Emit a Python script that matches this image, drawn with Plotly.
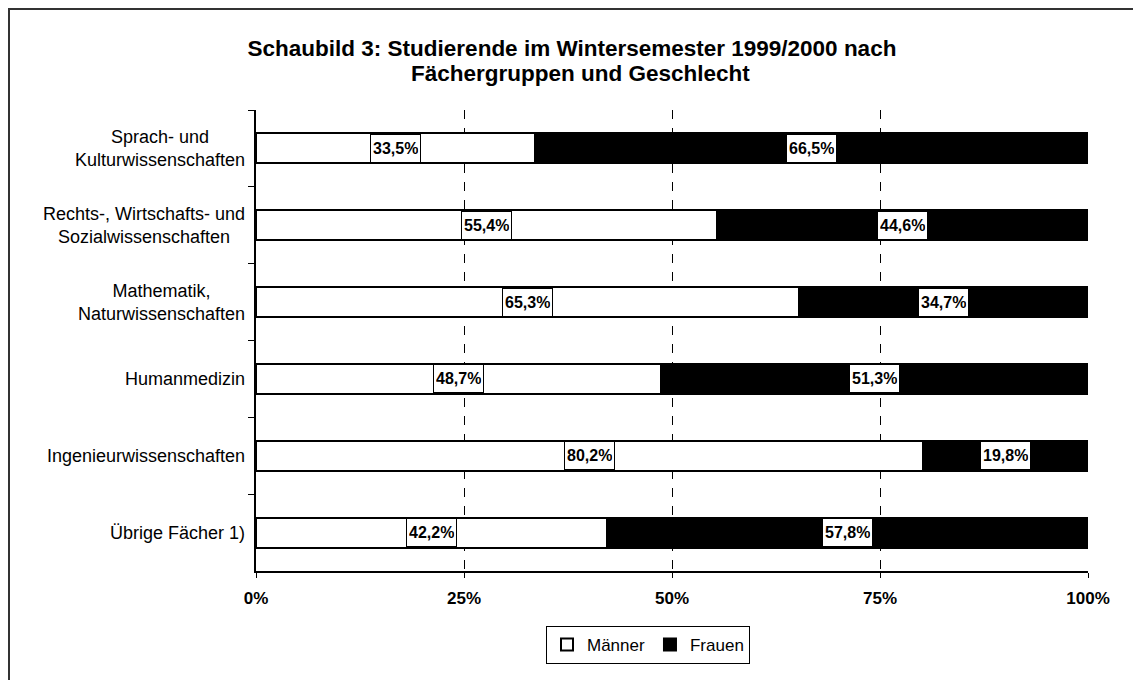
import plotly.graph_objects as go

categories = [
    "Sprach- und<br>Kulturwissenschaften",
    "Rechts-, Wirtschafts- und<br>Sozialwissenschaften",
    "Mathematik,<br>Naturwissenschaften",
    "Humanmedizin",
    "Ingenieurwissenschaften",
    "Übrige Fächer 1)",
]
maenner = [33.5, 55.4, 65.3, 48.7, 80.2, 42.2]
frauen = [66.5, 44.6, 34.7, 51.3, 19.8, 57.8]
x_ticks = [0, 25, 50, 75, 100]
x_ticktext = ["0%", "25%", "50%", "75%", "100%"]

FONT = "Liberation Sans, Arial, sans-serif"

# figure geometry (page has an 8px body margin)
W, H = 1133, 672
L, T, PW, PH = 248, 102, 832, 461
R = W - L - PW
B = H - T - PH


def px_x(xp):  # page pixel -> paper x
    return (xp - 8 - L) / PW


def px_y(yp):  # page pixel -> paper y
    return (T + PH - (yp - 8)) / PH


def fmt(v):
    return f"{v:.1f}".replace(".", ",") + "%"


fig = go.Figure()
fig.add_trace(go.Bar(
    y=categories, x=maenner, name="Männer", orientation="h",
    marker=dict(color="white", line=dict(color="black", width=2)),
    hoverinfo="skip",
))
fig.add_trace(go.Bar(
    y=categories, x=frauen, name="Frauen", orientation="h",
    marker=dict(color="black", line=dict(color="black", width=2)),
    hoverinfo="skip",
))

annotations = []
for cat, m, f in zip(categories, maenner, frauen):
    for xc, v in ((m / 2, m), (m + f / 2, f)):
        annotations.append(dict(
            x=xc, y=cat, xref="x", yref="y", text=f"<b>{fmt(v)}</b>",
            showarrow=False, bgcolor="white", bordercolor="black",
            borderwidth=1, borderpad=2, height=23,
            font=dict(family=FONT, size=16, color="black"),
        ))
    annotations.append(dict(
        x=0, y=cat, xref="paper", yref="y", text=cat, showarrow=False,
        xanchor="right", align="center", xshift=-9,
        font=dict(family=FONT, size=18, color="black"),
    ))

# second title line
annotations.append(dict(
    x=px_x(580), y=px_y(73), xref="paper", yref="paper",
    text="<b>Fächergruppen und Geschlecht</b>", showarrow=False,
    xanchor="center", yanchor="middle",
    font=dict(family=FONT, size=22.5, color="black"),
))

fig.update_layout(
    width=W, height=H, autosize=False,
    margin=dict(l=L, r=R, t=T, b=B),
    paper_bgcolor="white", plot_bgcolor="white",
    barmode="stack", bargap=0.61,
    font=dict(family=FONT, color="black"),
    title=dict(
        text="<b>Schaubild 3: Studierende im Wintersemester 1999/2000 nach</b>",
        x=(572 - 8) / W, xanchor="center", y=1 - (48 - 8) / H, yanchor="middle",
        font=dict(family=FONT, size=22.5, color="black"),
    ),
    xaxis=dict(
        range=[0, 100], tickvals=x_ticks, ticktext=x_ticktext,
        showgrid=True, gridcolor="black", griddash="dash", gridwidth=1,
        zeroline=False, showline=True, linecolor="black", linewidth=2,
        ticks="outside", ticklen=5, tickcolor="black", tickwidth=1,
        ticklabelstandoff=6,
        tickfont=dict(family=FONT, size=17, color="black", weight="bold"),
        fixedrange=True,
    ),
    yaxis=dict(
        autorange="reversed", showticklabels=False,
        showgrid=False, zeroline=False, showline=True,
        linecolor="black", linewidth=2,
        ticks="outside", tickson="boundaries", ticklen=6,
        tickcolor="black", tickwidth=1, fixedrange=True,
    ),
    legend=dict(
        orientation="h", x=px_x(648), y=px_y(645),
        xanchor="center", yanchor="middle",
        bordercolor="black", borderwidth=1, bgcolor="white",
        font=dict(family=FONT, size=17, color="black"),
        itemwidth=30, traceorder="normal",
    ),
    annotations=annotations,
    shapes=[dict(
        type="rect", xref="paper", yref="paper",
        x0=(1 - L) / PW, x1=(W + 20 - L) / PW,
        y0=(T + PH - (H + 20)) / PH, y1=(T + PH - 1) / PH,
        line=dict(color="#333333", width=2), fillcolor="rgba(0,0,0,0)",
        layer="below",
    )],
)

fig.write_html("out.html")
